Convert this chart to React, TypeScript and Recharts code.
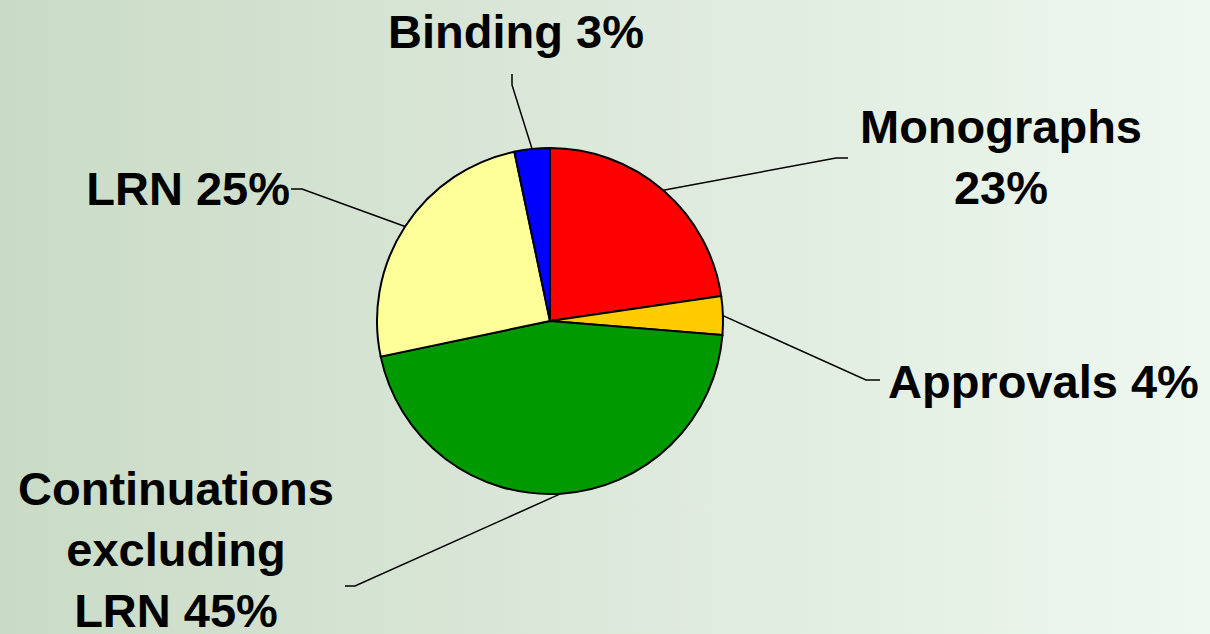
import { PieChart, Pie, Cell } from "recharts";

const categories = ["Monographs", "Approvals", "Continuations excluding LRN", "LRN", "Binding"];
const shares = [22.7, 3.6, 45.4, 25.0, 3.3];
const shownPct = [23, 4, 45, 25, 3];
const colors = ["#FF0000", "#FFCC00", "#009900", "#FFFF99", "#0000FF"];

const data = categories.map((name, i) => ({ name, value: shares[i], pct: shownPct[i] }));

// leader line elbows / tails and text placement for each label
const labelLayout = [
  { elbow: [836, 158], tail: [848, 158], x: 1001, y: 143, anchor: "middle", wrap: [1, 1] },
  { elbow: [866, 380], tail: [880, 380], x: 888, y: 398, anchor: "start", wrap: [2] },
  { elbow: [355, 586], tail: [345, 586], x: 176, y: 505, anchor: "middle", wrap: [1, 1, 2] },
  { elbow: [302, 189], tail: [291, 189], x: 290, y: 205, anchor: "end", wrap: [2] },
  { elbow: [512, 85], tail: [512, 74], x: 516, y: 48, anchor: "middle", wrap: [2] },
];

const RAD = Math.PI / 180;
const LINE_H = 61;

function renderLabel(props: any) {
  const { cx, cy, midAngle, outerRadius, index } = props;
  const d = data[index];
  const lay = labelLayout[index];
  const sx = cx + outerRadius * Math.cos(-midAngle * RAD);
  const sy = cy + outerRadius * Math.sin(-midAngle * RAD);
  const words = `${d.name} ${d.pct}%`.split(" ");
  const lines: string[] = [];
  let k = 0;
  lay.wrap.forEach((n, j) => {
    const take = j === lay.wrap.length - 1 ? words.length - k : n;
    lines.push(words.slice(k, k + take).join(" "));
    k += take;
  });
  return (
    <g key={`lbl-${index}`}>
      <polyline
        points={`${sx},${sy} ${lay.elbow[0]},${lay.elbow[1]} ${lay.tail[0]},${lay.tail[1]}`}
        fill="none"
        stroke="#000"
        strokeWidth={1.5}
      />
      <text
        x={lay.x}
        y={lay.y}
        textAnchor={lay.anchor as any}
        fontFamily="'Liberation Sans', Arial, sans-serif"
        fontWeight="bold"
        fontSize={47}
        fill="#000"
      >
        {lines.map((t, j) => (
          <tspan key={j} x={lay.x} dy={j === 0 ? 0 : LINE_H}>
            {t}
          </tspan>
        ))}
      </text>
    </g>
  );
}

export default function App() {
  return (
    <div
      style={{
        position: "fixed",
        left: 0,
        top: 0,
        width: 1210,
        height: 634,
        background: "linear-gradient(to right, #c9dbc5 0%, #dbe7d9 45%, #eef8ef 100%)",
      }}
    >
      <PieChart width={1210} height={634} margin={{ top: 0, right: 0, bottom: 0, left: 0 }}>
        <Pie
          data={data}
          dataKey="value"
          nameKey="name"
          cx={550}
          cy={321}
          outerRadius={173}
          startAngle={90}
          endAngle={-270}
          stroke="#000"
          strokeWidth={2}
          label={renderLabel}
          labelLine={false}
          isAnimationActive={false}
        >
          {data.map((d, i) => (
            <Cell key={d.name} fill={colors[i]} />
          ))}
        </Pie>
      </PieChart>
    </div>
  );
}
